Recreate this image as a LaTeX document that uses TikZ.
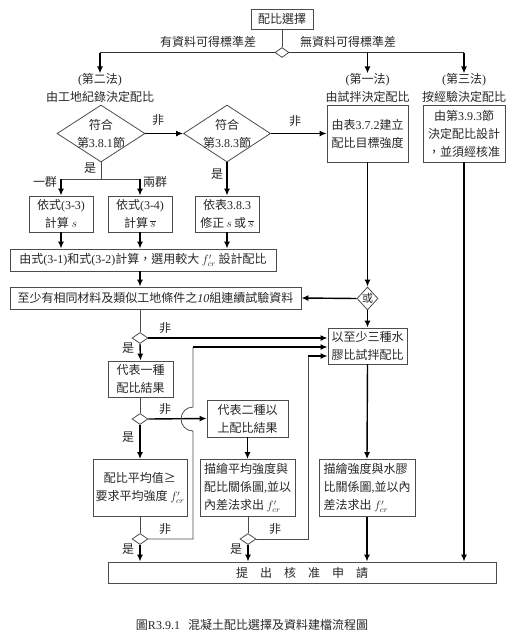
\documentclass[tikz,border=0pt]{standalone}
\usepackage{fontspec}
\setmainfont{Noto Sans CJK TC}
\newfontfamily\lat{Liberation Serif}
\usetikzlibrary{arrows.meta,shapes.geometric}
\begin{document}
\begin{tikzpicture}[x=1pt,y=-1pt,
  every node/.style={font=\fontsize{12}{18}\selectfont, text=black!85},
  box/.style={draw=black!70, line width=0.8pt, align=center, inner sep=0pt},
  dia/.style={draw=black!70, line width=0.8pt, diamond, inner sep=0pt},
  arr/.style={draw=black, line width=1.4pt, -{Latex[length=7pt,width=6pt]}},
  ln/.style={draw=black!70, line width=0.8pt},
  hl/.style={draw=black!80, line width=1pt},
  lbl/.style={inner sep=0pt}
]
\useasboundingbox (0,0) rectangle (515,641);

% top
\node[box, minimum width=62pt, minimum height=20pt] (top) at (282,19) {配比選擇};
\node[dia, minimum width=14pt, minimum height=10pt] (d0) at (282,52.5) {};
\node[lbl] (lhas) at (208,42) {有資料可得標準差};
\node[lbl] (lno) at (348,42) {無資料可得標準差};

% method headings
\node[lbl] (m2a) at (100,80) {{\lat (}第二法{\lat )}};
\node[lbl] (m2b) at (100,97) {由工地紀錄決定配比};
\node[lbl] (m1a) at (367.5,80) {{\lat (}第一法{\lat )}};
\node[lbl] (m1b) at (367.5,97) {由試拌決定配比};
\node[lbl] (m3a) at (464,80) {{\lat (}第三法{\lat )}};
\node[lbl] (m3b) at (464,97) {按經驗決定配比};

\coordinate (c2) at (100,52.5);
\coordinate (c1) at (367.5,52.5);
\coordinate (c3) at (464,52.5);

% decisions row
\node[dia, minimum width=88pt, minimum height=57pt] (d1) at (101,133.5) {};
\node[align=center] at (d1) {符合\\第{\lat 3.8.1}節};
\node[dia, minimum width=87pt, minimum height=57pt] (d2) at (227,133.5) {};
\node[align=center] at (d2) {符合\\第{\lat 3.8.3}節};
\node[box, minimum width=81pt, minimum height=57pt] (b1) at (367.5,133.5) {由表{\lat 3.7.2}建立\\配比目標強度};
\node[box, minimum width=82pt, minimum height=57pt] (b3) at (464,133.5) {由第{\lat 3.9.3}節\\決定配比設計\\，並須經核准};

% second row boxes
\node[box, minimum width=64pt, minimum height=36pt] (b33) at (61,214) {依式{\lat (3-3)}\\計算 $s$};
\node[box, minimum width=64pt, minimum height=36pt] (b34) at (140,214) {依式{\lat (3-4)}\\計算\,$\overline{s}$};
\node[box, minimum width=64pt, minimum height=36pt] (b383) at (227,214) {依表{\lat 3.8.3}\\修正\,$s$\,或\,$\overline{s}$};
\coordinate (br) at (101,179);

\node[box, minimum width=266pt, minimum height=22pt] (bcalc) at (143,260) {由式{\lat (3-1)}和式{\lat (3-2)}計算，選用較大 $f'_{cr}$ 設計配比};
\node[box, minimum width=291pt, minimum height=22pt] (b10) at (155.5,298) {至少有相同材料及類似工地條件之{\lat\itshape 10}組連續試驗資料};
\node[dia, minimum width=21pt, minimum height=23pt] (bor) at (367.5,298.5) {};
\node[font=\fontsize{11}{12}\selectfont] at (bor) {或};

\node[box, minimum width=79pt, minimum height=36pt] (b3t) at (367.5,346) {以至少三種水\\膠比試拌配比};

% left column
\node[dia, minimum width=16pt, minimum height=11pt] (ds1) at (140,338) {};
\node[box, minimum width=65pt, minimum height=36pt] (bone) at (140.5,379) {代表一種\\配比結果};
\node[dia, minimum width=16pt, minimum height=11pt] (ds2) at (140,419) {};
\node[box, minimum width=81pt, minimum height=37pt] (btwo) at (247.5,418.5) {代表二種以\\上配比結果};
\node[box, minimum width=94pt, minimum height=57pt] (bavg) at (140,488) {配比平均值≥\\要求平均強度 $f'_{cr}$};
\node[box, minimum width=95pt, minimum height=57pt, align=left] (bplot) at (247.5,488) {描繪平均強度與\\配比關係圖{\lat ,}並以\\內差法求出 $f'_{cr}$};
\node[box, minimum width=96pt, minimum height=57pt, align=left] (bplot2) at (367,488) {描繪強度與水膠\\比關係圖{\lat ,}並以內\\差法求出 $f'_{cr}$};
\node[dia, minimum width=16pt, minimum height=11pt] (ds3) at (140,539) {};
\node[dia, minimum width=16pt, minimum height=11pt] (ds4) at (248,539) {};

\node[box, minimum width=388pt, minimum height=21pt] (fin) at (302,572.5) {提\hspace{12pt}出\hspace{12pt}核\hspace{12pt}准\hspace{12pt}申\hspace{12pt}請};

\node[lbl] (cap) at (252,625) {圖{\lat R3.9.1}\hspace{8pt}混凝土配比選擇及資料建檔流程圖};

% labels
\node[lbl] at (158,120) {非};
\node[lbl] at (295,121) {非};
\node[lbl] at (90,168) {是};
\node[lbl] at (45,182) {一群};
\node[lbl] at (155,182) {兩群};
\node[lbl] at (217,174) {是};
\node[lbl] at (165,328) {非};
\node[lbl] at (128,348) {是};
\node[lbl] at (165,409) {非};
\node[lbl] at (128,437) {是};
\node[lbl] at (165,529) {非};
\node[lbl] at (128,549) {是};
\node[lbl] at (275,529) {非};
\node[lbl] at (236,549) {是};

% connectors: top
\draw[ln] (top) -- (d0.north);
\draw[hl] (d0.west) -- (c2);
\draw[hl] (d0.east) -- (c3);
\draw[arr] (c2) -- (m2a.north);
\draw[arr] (c1) -- (m1a.north);
\draw[arr] (c3) -- (m3a.north);

% row decisions
\draw[arr] (d1.east) -- (d2.west);
\draw[arr] (d2.east) -- (b1.west);
\draw[ln] (d1.south) -- (br);
\draw[ln] (b33.north |- br) -- (b34.north |- br);
\draw[arr] (b33.north |- br) -- (b33.north);
\draw[arr] (b34.north |- br) -- (b34.north);
\draw[arr] (d2.south) -- (b383.north);

\draw[arr] (b33.south) -- (b33.south |- bcalc.north);
\draw[arr] (b34.south) -- (b34.south |- bcalc.north);
\draw[arr] (b383.south) -- (b383.south |- bcalc.north);
\draw[arr] (b34.south |- bcalc.south) -- (b34.south |- b10.north);

% right column
\draw[arr] (b1.south) -- (bor.north);
\draw[arr] (bor.west) -- (b10.east);
\draw[arr] (bor.south) -- (b3t.north);
\draw[arr] (b3t.south) -- (bplot2.north);
\draw[arr] (bplot2.south) -- (bplot2.south |- fin.north);
\draw[arr] (b3.south) -- (b3.south |- fin.north);

% left column
\draw[ln] (ds1 |- b10.south) -- (ds1.north);
\draw[arr] (ds1.east) -- (ds1.east -| b3t.west);
\draw[arr] (ds1.south) -- (bone.north);
\draw[ln] (bone.south -| ds2) -- (ds2.north);
\draw[arr] (ds2.east) -- (btwo.west);
\draw[arr] (ds2.south) -- (bavg.north);
\draw[ln] (bavg.south) -- (ds3.north);
\draw[arr] (ds3.south) -- (ds3.south |- fin.north);

\coordinate (l1a) at (193,539);
\coordinate (l1h) at (193,431);
\coordinate (l1b) at (193,347);
\draw[ln] (ds3.east) -- (l1a) -- (l1h) arc[start angle=90, end angle=270, radius=12] -- (l1b);
\draw[arr] (l1b) -- (l1b -| b3t.west);

\draw[arr] (btwo.south) -- (btwo.south |- bplot.north);
\draw[ln] (bplot.south -| ds4) -- (ds4.north);
\draw[arr] (ds4.south) -- (ds4.south |- fin.north);
\coordinate (l2a) at (308,539);
\coordinate (l2b) at (308,356);
\draw[ln] (ds4.east) -- (l2a) -- (l2b);
\draw[arr] (l2b) -- (l2b -| b3t.west);
\end{tikzpicture}
\end{document}
